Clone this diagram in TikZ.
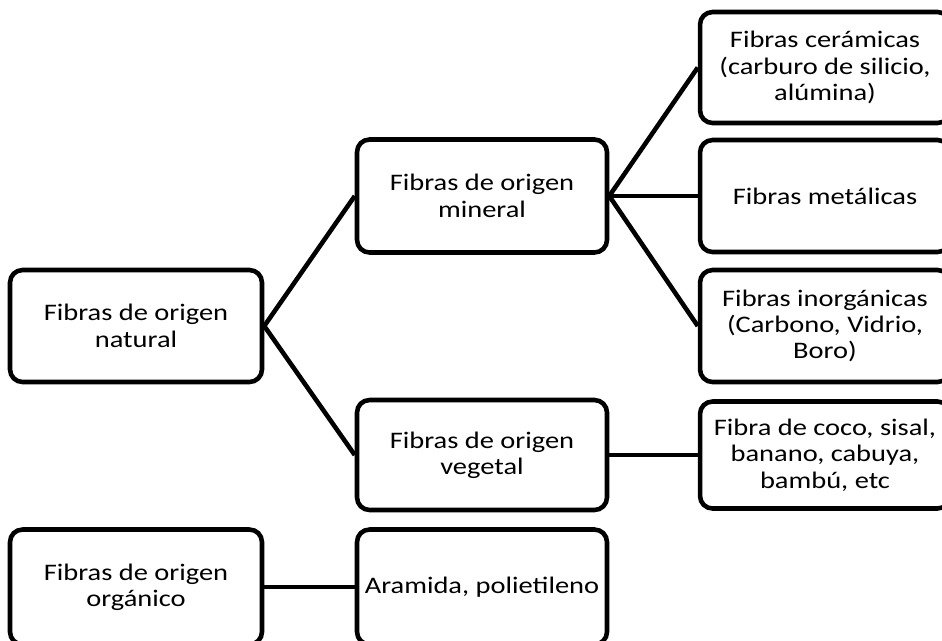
\documentclass[tikz,border=0pt]{standalone}
\usepackage{fontspec}
\setmainfont{Carlito}[FakeStretch=1.2]
\usetikzlibrary{positioning}

\tikzset{
    fibra/.style={draw, line width=2.6pt, rounded corners=0.25cm, align=center,
        inner sep=0pt, minimum width=5cm, minimum height=2.24cm,
        font=\fontsize{13.5}{15}\selectfont},
    enlace/.style={line width=2.6pt}
}

\begin{document}
\begin{tikzpicture}[x=0.02cm, y=-0.02cm]
    \useasboundingbox (0, 0) rectangle (942, 640);
    \clip (0, 0) rectangle (942, 640);
    % primer nivel
    \node[fibra, minimum width=5.04cm] (nat) at (136, 326) {Fibras de origen\\natural};
    \node[fibra, minimum width=5.04cm, minimum height=2.3cm] (org) at (136, 587) {Fibras de origen\\orgánico};
    % segundo nivel
    \node[fibra, minimum height=2.26cm] (min) at (482, 196) {Fibras de origen\\mineral};
    \node[fibra, minimum height=2.2cm] (veg) at (482, 455) {Fibras de origen\\vegetal};
    \node[fibra, minimum height=2.3cm] (ara) at (482, 587) {Aramida, polietileno};
    % tercer nivel
    \begin{scope}[every node/.append style={minimum width=4.8cm}]
        \node[fibra, minimum height=2.22cm] (cer) at (825, 67.5) {Fibras cerámicas\\(carburo de silicio,\\alúmina)};
        \node[fibra] (met) at (825, 196) {Fibras metálicas};
        \node[fibra] (ino) at (825, 326) {Fibras inorgánicas\\(Carbono, Vidrio,\\Boro)};
        \node[fibra, minimum height=2.14cm] (coc) at (825, 455) {Fibra de coco, sisal,\\banano, cabuya,\\bambú, etc};
    \end{scope}
    % enlaces
    \draw[enlace] (nat.east) -- (min.west);
    \draw[enlace] (nat.east) -- (veg.west);
    \draw[enlace] (min.east) -- (cer.west);
    \draw[enlace] (min.east) -- (met.west);
    \draw[enlace] (min.east) -- (ino.west);
    \draw[enlace] (veg.east) -- (coc.west);
    \draw[enlace] (org.east) -- (ara.west);
\end{tikzpicture}
\end{document}
